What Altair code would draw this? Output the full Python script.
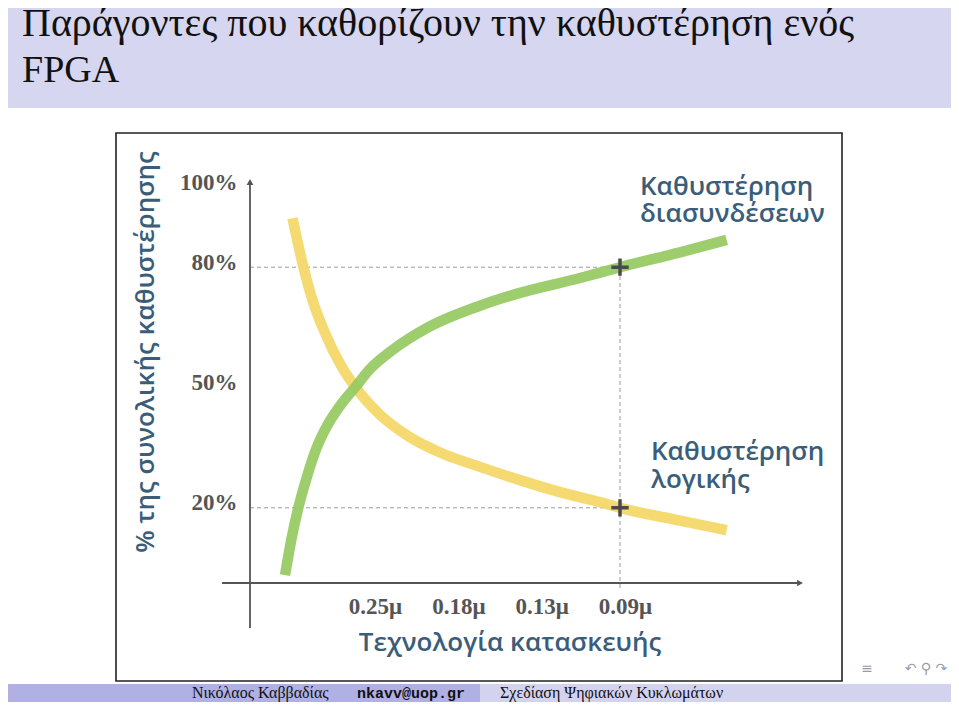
import json
import altair as alt
import pandas as pd

# ---------------- data ----------------
tech_pos = [1, 2, 3, 4]
tech_labels = ["0.25μ", "0.18μ", "0.13μ", "0.09μ"]
pct_ticks = [20, 50, 80, 100]

logic_u = [0.07, 0.20, 0.31, 0.46, 0.66, 0.82, 1.12, 1.48, 1.84, 2.32, 2.80, 3.28, 3.76, 4.00, 4.72, 5.28]
logic_v = [92.2, 80.1, 71.8, 63.6, 55.2, 50.2, 43.2, 37.6, 33.8, 30.2, 26.9, 23.9, 21.4, 20.0, 16.8, 14.4]
wire_u = [-0.02, 0.06, 0.14, 0.24, 0.36, 0.50, 0.66, 0.82, 1.00, 1.28, 1.68, 2.32, 2.80, 3.52, 4.00, 4.72, 5.28]
wire_v = [3.2, 12.5, 20.0, 27.5, 35.0, 41.0, 46.0, 50.0, 54.6, 59.5, 64.8, 70.4, 73.6, 77.3, 80.0, 83.7, 86.8]

marker_u = [4, 4]
marker_v = [80, 20]

title_lines = ["Παράγοντες που καθορίζουν την καθυστέρηση ενός", "FPGA"]
y_title = "% της συνολικής καθυστέρησης"
x_title = "Τεχνολογία κατασκευής"
wire_label = ["Καθυστέρηση", "διασυνδέσεων"]
logic_label = ["Καθυστέρηση", "λογικής"]
footer_author = "Νικόλαος Καββαδίας"
footer_mail = "nkavv@uop.gr"
footer_course = "Σχεδίαση Ψηφιακών Κυκλωμάτων"
nav_symbols = ["≡", "↶ ⚲ ↷"]

# ---------------- scales / encodings ----------------
X_MIN, X_MAX = -0.44, 6.04
xscale = alt.Scale(domain=[X_MIN, X_MAX], nice=False, zero=False)
yscale = alt.Scale(domain=[0, 100], nice=False)

label_js = json.dumps(tech_labels, ensure_ascii=False)
xaxis = alt.Axis(values=tech_pos, labelExpr=f"{label_js}[datum.value-1]", title=None,
                 domain=False, ticks=False, tickSize=0, grid=False, labelPadding=18,
                 labelBaseline="middle", labelOffset=5, labelFont="Liberation Serif",
                 labelFontWeight="bold", labelFontSize=23, labelColor="#555555", zindex=1)
yaxis = alt.Axis(values=pct_ticks, labelExpr="datum.value + '%'", title=None,
                 domain=False, ticks=False, tickSize=0, grid=False, labelPadding=13,
                 labelOffset=-5, labelFont="Liberation Serif", labelFontWeight="bold",
                 labelFontSize=23, labelColor="#555555", zindex=1)

XE = alt.X("u:Q", scale=xscale, axis=xaxis)
YE = alt.Y("v:Q", scale=yscale, axis=yaxis)

one = pd.DataFrame({"k": [0]})


def rect(x, x2, y, y2, **kw):
    return alt.Chart(one).mark_rect(**kw).encode(
        x=alt.value(x), x2=alt.value(x2), y=alt.value(y), y2=alt.value(y2))


def text(s, x, y, **kw):
    return alt.Chart(pd.DataFrame({"t": [s]})).mark_text(**kw).encode(
        x=alt.value(x), y=alt.value(y), text="t:N")


# ---------------- slide decorations (pixel offsets from plot origin) ----------------
header = rect(-260, 720, -200, -79, color="#d6d6f0")
foot_l = rect(-260, 230, 497, 530, color="#b0b0e3")
foot_r = rect(230, 720, 497, 530, color="#d3d3f0")
box = rect(-134, 592, -54, 494, fill="white", stroke="#222222", strokeWidth=1.6)

axis_col = "#555555"
y_line = alt.Chart(one).mark_rule(color=axis_col, strokeWidth=1.8).encode(
    x=alt.value(0), y=alt.value(-4), y2=alt.value(441))
y_arrow = alt.Chart(one).mark_point(shape="triangle-up", filled=True, color=axis_col,
                                    size=45, opacity=1).encode(x=alt.value(0), y=alt.value(-5))
x_line = alt.Chart(one).mark_rule(color=axis_col, strokeWidth=1.8).encode(
    x=alt.value(-28), x2=alt.value(548), y=alt.value(396))
x_arrow = alt.Chart(one).mark_point(shape="triangle-right", filled=True, color=axis_col,
                                    size=45, opacity=1).encode(x=alt.value(550), y=alt.value(396))

# ---------------- guides ----------------
guides = pd.DataFrame({
    "u": [X_MIN, X_MIN, marker_u[0]],
    "u2": [marker_u[0], marker_u[1], marker_u[0]],
    "v": [marker_v[0], marker_v[1], 0],
    "v2": [marker_v[0], marker_v[1], marker_v[0]],
})
guide_layer = alt.Chart(guides).mark_rule(color="#9a9a9a", strokeWidth=1, strokeDash=[4, 3]).encode(
    x=XE, x2="u2:Q", y=YE, y2="v2:Q")

# ---------------- curves ----------------
logic_df = pd.DataFrame({"u": logic_u, "v": logic_v})
wire_df = pd.DataFrame({"u": wire_u, "v": wire_v})
logic_layer = alt.Chart(logic_df).mark_line(color="#f3d764", strokeWidth=10.5, opacity=0.92,
                                            interpolate="monotone", strokeCap="butt").encode(x=XE, y=YE)
wire_layer = alt.Chart(wire_df).mark_line(color="#95c960", strokeWidth=10.5, opacity=0.92,
                                          interpolate="monotone", strokeCap="butt").encode(x=XE, y=YE)

markers = alt.Chart(pd.DataFrame({"u": marker_u, "v": marker_v})).mark_point(
    shape="M-1,0L1,0M0,-1L0,1", size=300, strokeWidth=3.5, color="#4a4a4a", filled=False, opacity=1
).encode(x=XE, y=YE)

# ---------------- texts ----------------
ann_col = "#3a5d79"
sans = "Open Sans"
texts = [
    text(title_lines[0], -228, -151, font="Liberation Serif", fontSize=40, color="#111111",
         align="left", baseline="alphabetic"),
    text(title_lines[1], -228, -105, font="Liberation Serif", fontSize=38, color="#111111",
         align="left", baseline="alphabetic"),
    text(y_title, -104, 165, font=sans, fontSize=26, fontWeight=600, color=ann_col, angle=270,
         align="center", baseline="middle"),
    text(x_title, 260, 464, font=sans, fontSize=26, fontWeight=600, color=ann_col,
         align="center", baseline="alphabetic"),
    text(wire_label[0], 390, 8, font=sans, fontSize=26, fontWeight=600, color=ann_col,
         align="left", baseline="alphabetic"),
    text(wire_label[1], 390, 35, font=sans, fontSize=26, fontWeight=600, color=ann_col,
         align="left", baseline="alphabetic"),
    text(logic_label[0], 401, 273, font=sans, fontSize=26, fontWeight=600, color=ann_col,
         align="left", baseline="alphabetic"),
    text(logic_label[1], 401, 301, font=sans, fontSize=26, fontWeight=600, color=ann_col,
         align="left", baseline="alphabetic"),
    text(footer_author, -58, 511, font="Liberation Serif", fontSize=16, color="#111111",
         align="left", baseline="alphabetic"),
    text(footer_mail, 107, 511, font="Liberation Mono", fontSize=15, fontWeight="bold",
         color="#111111", align="left", baseline="alphabetic"),
    text(footer_course, 250, 511, font="Liberation Serif", fontSize=16, color="#111111",
         align="left", baseline="alphabetic"),
    text(nav_symbols[0], 617, 486, font="DejaVu Sans", fontSize=14, color="#9a9aa8",
         align="center", baseline="alphabetic"),
    text(nav_symbols[1], 676, 486, font="DejaVu Sans", fontSize=14, color="#9a9aa8",
         align="center", baseline="alphabetic"),
]

chart = alt.layer(
    header, foot_l, foot_r, box,
    guide_layer, y_line, y_arrow, x_line, x_arrow,
    logic_layer, wire_layer, markers,
    *texts,
).properties(
    width=540, height=401,
    padding={"left": 242, "top": 179, "right": 161, "bottom": 114},
    autosize=alt.AutoSizeParams(type="none"),
    background="white",
).configure_view(stroke=None)

chart.save("out.html", embed_options={"renderer": "svg", "actions": False})
